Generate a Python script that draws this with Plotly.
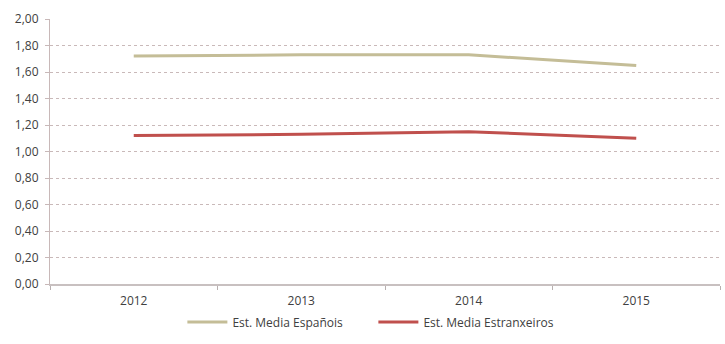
import plotly.graph_objects as go

years = ["2012", "2013", "2014", "2015"]
espanois = [1.72, 1.73, 1.73, 1.65]
estranxeiros = [1.12, 1.13, 1.15, 1.10]

font_family = "Open Sans, Liberation Sans, sans-serif"

fig = go.Figure()
fig.add_trace(go.Scatter(
    x=years, y=espanois, mode="lines", name="Est. Media Españois",
    line=dict(color="#C4BD97", width=3),
))
fig.add_trace(go.Scatter(
    x=years, y=estranxeiros, mode="lines", name="Est. Media Estranxeiros",
    line=dict(color="#C0504D", width=3),
))

fig.update_layout(
    width=725, height=344,
    margin=dict(l=50, r=5, t=19, b=60, autoexpand=False),
    paper_bgcolor="white", plot_bgcolor="white",
    separators=",.",
    font=dict(family=font_family, size=12, color="#444444"),
    showlegend=True,
    legend=dict(
        orientation="h", xref="container", x=0.515, xanchor="center",
        yref="container", y=0.064, yanchor="middle",
        font=dict(size=12, color="#404040"), itemwidth=40,
        tracegroupgap=0, entrywidthmode="pixels", entrywidth=136,
    ),
    xaxis=dict(
        type="category", range=[-0.5, 3.5], automargin=False,
        tickson="boundaries", ticks="outside", ticklen=4, tickcolor="#B8B0B0",
        showline=True, linecolor="#C8C0C0", linewidth=1.5,
        showgrid=False, zeroline=False,
        ticklabelstandoff=5,
        tickfont=dict(size=12, color="#404040"),
    ),
    yaxis=dict(
        range=[0, 2.0], dtick=0.2, tickformat=".2f", automargin=False,
        showgrid=True, gridcolor="#C9B9B9", griddash="dot", gridwidth=1.2,
        showline=True, linecolor="#C8B8B8", linewidth=1.2,
        ticks="outside", ticklen=4, tickcolor="#C8B8B8",
        ticklabelstandoff=4,
        zeroline=False,
        tickfont=dict(size=12, color="#404040"),
    ),
)

fig.write_html("out.html")
